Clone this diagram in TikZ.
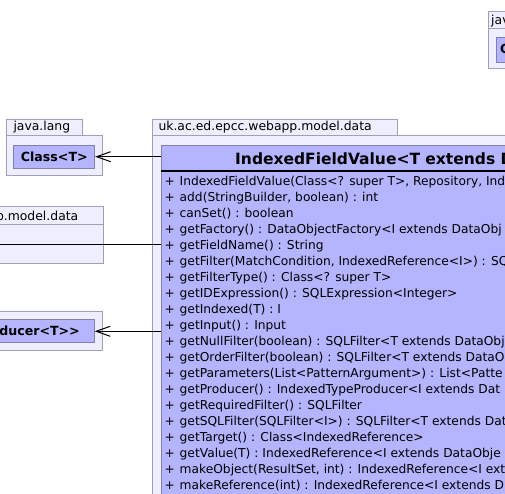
\documentclass[tikz,border=0pt]{standalone}
\usepackage{fontspec}
\setmainfont[Ligatures=NoCommon]{DejaVu Sans}
\usetikzlibrary{arrows.meta}
\definecolor{pkgfill}{HTML}{EEEEFF}
\definecolor{pkgdraw}{HTML}{A0A0B4}
\definecolor{clsfill}{HTML}{B4B4FF}
\definecolor{clsdraw}{HTML}{8080A8}
\begin{document}
\begin{tikzpicture}[x=1pt,y=-1pt,
  pkg/.style={draw=pkgdraw,fill=pkgfill,line width=1pt},
  clsbox/.style={draw=clsdraw,fill=clsfill,line width=1pt,inner sep=0pt,font=\fontsize{12.6}{14}\selectfont\bfseries},
  clstext/.style={font=\fontsize{12.6}{14}\selectfont\bfseries,inner sep=0pt},
  pkglabel/.style={font=\fontsize{12.4}{14}\selectfont,anchor=base west,inner sep=0pt},
  meth/.style={font=\fontsize{12.25}{14}\selectfont,anchor=base west,inner sep=0pt},
  title/.style={font=\fontsize{15.5}{18}\selectfont\bfseries,anchor=base west,inner sep=0pt},
  assoc/.style={line width=1pt,-{Straight Barb[length=14pt,width=10pt]}},
  plainline/.style={line width=1pt}]
\useasboundingbox (0,0) rectangle (505,494);
\clip (0,0) rectangle (505,494);
\fill[white] (0,0) rectangle (505,494);

% top-right package
\draw[pkg] (488,12) rectangle (540,29);
\draw[pkg] (488,29) rectangle (540,69);
\node[pkglabel] (ptr) at (491,25) {jav};
\node[clsbox,anchor=north west,minimum width=40pt,minimum height=24.3pt] (ctr) at (495.5,37.3) {};
\node[clstext,anchor=base west] (ctrt) at (500,54) {C};

% java.lang package
\draw[pkg] (6.5,119.5) rectangle (82.5,136);
\draw[pkg] (6.5,136) rectangle (102.5,176);
\node[pkglabel] (pjl) at (13.3,131) {java.lang};
\node[clsbox,minimum width=80.7pt,minimum height=23.3pt] (cls) at (54.3,156.7) {Class<T>};

% second package
\draw[pkg] (-5,206.5) rectangle (103.5,224);
\draw[pkg] (-5,224) rectangle (103.5,263.5);
\node[pkglabel,anchor=base east] (pmd) at (78.5,220) {p.model.data};

% third package
\draw[pkg] (-5,311.5) rectangle (102.5,350);
\node[clsbox,anchor=north east,minimum width=110pt,minimum height=23pt] (prod) at (94.7,319.3) {};
\node[clstext,anchor=base east] (prodt) at (80,335) {ducer<T>{}>};

% main package
\draw[pkg] (152,119.5) rectangle (397.5,136);
\draw[pkg] (152,136) rectangle (540,540);
\node[pkglabel] (pmain) at (158.3,131) {uk.ac.ed.epcc.webapp.model.data};

% main class
\node[clsbox,anchor=north west,minimum width=400pt,minimum height=400pt] (main) at (161,145.5) {};
\draw[line width=2pt] (161,171.5) -- (540,171.5);
\node[title] (mtitle) at (235,164.5) {IndexedFieldValue<T extends D};

\foreach \t [count=\i from 0] in {
  {IndexedFieldValue(Class<? super T>, Repository, Ind},
  {add(StringBuilder, boolean) : int},
  {canSet() : boolean},
  {getFactory() : DataObjectFactory<I extends DataObj},
  {getFieldName() : String},
  {getFilter(MatchCondition, IndexedReference<I>) : SQ},
  {getFilterType() : Class<? super T>},
  {getIDExpression() : SQLExpression<Integer>},
  {getIndexed(T) : I},
  {getInput() : Input},
  {getNullFilter(boolean) : SQLFilter<T extends DataObj},
  {getOrderFilter(boolean) : SQLFilter<T extends DataO},
  {getParameters(List<PatternArgument>) : List<Patte},
  {getProducer() : IndexedTypeProducer<I extends Dat},
  {getRequiredFilter() : SQLFilter},
  {getSQLFilter(SQLFilter<I>) : SQLFilter<T extends Dat},
  {getTarget() : Class<IndexedReference>},
  {getValue(T) : IndexedReference<I extends DataObje},
  {makeObject(ResultSet, int) : IndexedReference<I ext},
  {makeReference(int) : IndexedReference<I extends D}}
  {
  \node[meth] (p\i) at (164.5,185.3+16*\i) {+};
  \node[meth] (m\i) at (179.5,185.3+16*\i) {\t};
  }

% connectors
\coordinate (offA) at (-5,244);
\draw[assoc] (main.west |- cls.east) -- (cls.east);
\draw[plainline] (main.west |- offA) -- (offA);
\draw[assoc] (main.west |- prod.east) -- (prod.east);
\end{tikzpicture}
\end{document}
